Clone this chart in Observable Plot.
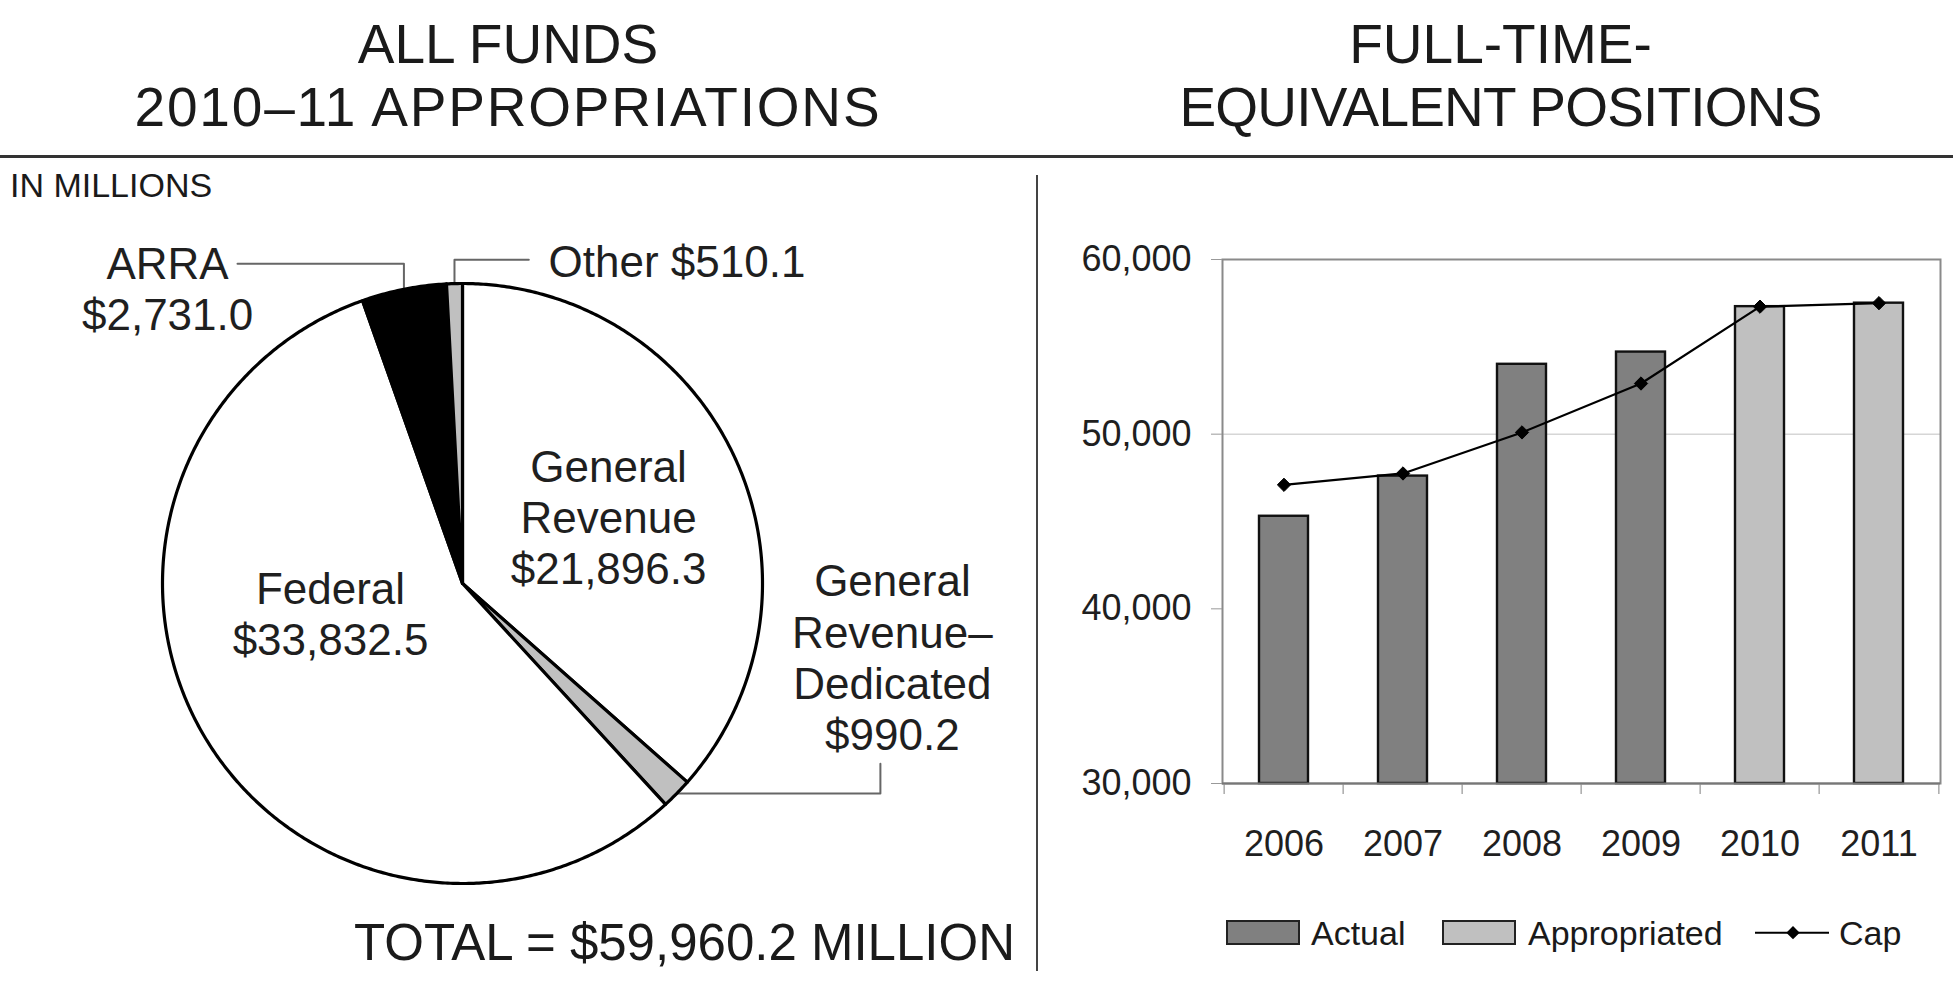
<!DOCTYPE html>
<html>
<head>
<meta charset="utf-8">
<script src="https://cdn.jsdelivr.net/npm/d3@7"></script>
<script src="https://cdn.jsdelivr.net/npm/@observablehq/plot@0.6"></script>
<style>
  html, body { margin: 0; padding: 0; background: #fff; }
  #page { position: relative; width: 1953px; height: 987px; overflow: hidden; font-family: "Liberation Sans", Arial, sans-serif; color: #1a1a1a; }
  .abs { position: absolute; white-space: nowrap; }
  .title { font-size: 55px; line-height: 63.4px; text-align: center; }
  .swatch { position: absolute; box-sizing: border-box; border: 2px solid #222; }
  .leg { position: absolute; font-size: 34px; line-height: 34px; white-space: nowrap; }
</style>
</head>
<body>
<div id="page">
  <div class="abs title" style="left:0px; top:12.5px; width:1016px;">ALL FUNDS<br><span style="letter-spacing:1.8px;">2010–11 APPROPRIATIONS</span></div>
  <div class="abs title" style="left:1100px; top:12.5px; width:801px;">FULL-TIME-<br><span style="letter-spacing:-0.8px;">EQUIVALENT POSITIONS</span></div>
  <div class="abs" style="left:0; top:155px; width:1953px; height:3px; background:#333;"></div>
  <div class="abs" style="left:10px; top:168px; font-size:34px; line-height:34px;">IN MILLIONS</div>
  <div class="abs" style="left:1036px; top:175px; width:2px; height:796px; background:#444;"></div>
  <div id="pie" class="abs" style="left:0; top:200px;"></div>
  <div id="bars" class="abs" style="left:1040px; top:220px;"></div>
  <div class="abs" style="left:0; top:917px; width:1015px; text-align:right; font-size:51px; line-height:51px;">TOTAL = $59,960.2 MILLION</div>
  <div id="legend"></div>
</div>
<script>
// ---------------- DATA ----------------
// Pie: All funds 2010–11 appropriations (in millions), clockwise from 12 o'clock
const fundNames  = ["General Revenue", "General Revenue–Dedicated", "Federal", "ARRA", "Other"];
const fundValues = [21896.3, 990.2, 33832.5, 2731.0, 510.1];
const fundLabels = ["General\nRevenue\n$21,896.3", "General\nRevenue–\nDedicated\n$990.2", "Federal\n$33,832.5", "ARRA\n$2,731.0", "Other $510.1"];
const fundFills  = ["#ffffff", "#c0c0c0", "#ffffff", "#000000", "#c0c0c0"];

// Bars: full-time-equivalent positions
const years      = ["2006", "2007", "2008", "2009", "2010", "2011"];
const ftePositions = [45300, 47600, 54000, 54700, 57300, 57500];
const fteTypes   = ["Actual", "Actual", "Actual", "Actual", "Appropriated", "Appropriated"];
const fteCap     = [47100, 47750, 50100, 52900, 57300, 57500];
const yTicks     = [30000, 40000, 50000, 60000];
const seriesNames = ["Actual", "Appropriated", "Cap"];
const seriesFills = ["#808080", "#c0c0c0"];

// ---------------- PIE ----------------
const FONT = "Liberation Sans, Arial, sans-serif";
const funds = fundNames.map((name, i) => ({name, value: fundValues[i], label: fundLabels[i], fill: fundFills[i]}));
const arcs = d3.pie().sort(null).value(d => d.value).startAngle(0).endAngle(2 * Math.PI)(funds);
const pt = a => ({x: Math.sin(a), y: Math.cos(a)});

const sliceMarks = arcs.map(arc => {
  const pts = [{x: 0, y: 0}];
  const n = Math.max(2, Math.ceil((arc.endAngle - arc.startAngle) / (Math.PI / 360)));
  for (let k = 0; k <= n; k++) pts.push(pt(arc.startAngle + (arc.endAngle - arc.startAngle) * k / n));
  pts.push({x: 0, y: 0});
  return Plot.line(pts, {x: "x", y: "y", fill: arc.data.fill, stroke: "#000", strokeWidth: 3.2, strokeLinejoin: "round", curve: "linear"});
});

// label layout (in pie-radius units)
const labelPos = {
  "General Revenue": [0.487, 0.224],
  "General Revenue–Dedicated": [1.433, -0.244],
  "Federal": [-0.44, -0.099],
  "ARRA": [-0.983, 0.984],
  "Other": [0.287, 1.068]
};
const mid = name => { const a = arcs.find(d => d.data.name === name); return pt((a.startAngle + a.endAngle) / 2); };
const aA = mid("ARRA"), aO = mid("Other"), aG = mid("General Revenue–Dedicated");
const leaders = [
  [{x: -0.75, y: 1.066}, {x: aA.x, y: 1.066}, aA],
  [aO, {x: aO.x, y: 1.079}, {x: 0.221, y: 1.079}],
  [aG, {x: 1.393, y: aG.y}, {x: 1.393, y: -0.601}]
];

const centered = funds.filter(d => d.name !== "Other").map(d => ({text: d.label, x: labelPos[d.name][0], y: labelPos[d.name][1]}));
const other = funds.filter(d => d.name === "Other").map(d => ({text: d.label, x: labelPos[d.name][0], y: labelPos[d.name][1]}));

const pie = Plot.plot({
  width: 1037, height: 700,
  x: {domain: [-1, 1], range: [162, 762], axis: null},
  y: {domain: [-1, 1], range: [683, 83], axis: null},
  style: {fontFamily: FONT, background: "transparent", overflow: "visible"},
  marks: [
    ...leaders.map(l => Plot.line(l, {x: "x", y: "y", stroke: "#666", strokeWidth: 2})),
    ...sliceMarks,
    Plot.text(centered, {x: "x", y: "y", text: "text", fontSize: 44, lineHeight: 1.16, textAnchor: "middle", lineAnchor: "middle", fill: "#1f1f1f"}),
    Plot.text(other, {x: "x", y: "y", text: "text", fontSize: 44, textAnchor: "start", lineAnchor: "middle", fill: "#1f1f1f"})
  ]
});
document.getElementById("pie").appendChild(pie);

// ---------------- BARS ----------------
const rows = years.map((year, i) => ({year, value: ftePositions[i], type: fteTypes[i], cap: fteCap[i]}));
const W = 913, ML = 182, MR = 13;
const step = (W - ML - MR) / years.length;

const bars = Plot.plot({
  width: W, height: 680,
  marginLeft: ML, marginRight: MR, marginTop: 39, marginBottom: 117,
  x: {type: "band", domain: years, paddingInner: 0.59, paddingOuter: 0.295, label: null},
  y: {domain: [30000, 60000], label: null},
  style: {fontFamily: FONT, background: "transparent", overflow: "visible", color: "#1f1f1f"},
  marks: [
    Plot.ruleY([50000], {stroke: "#d6d6d6", strokeWidth: 1.5}),
    Plot.frame({stroke: "#8a8a8a", strokeWidth: 2}),
    Plot.ruleX(years, {x: d => d, y1: 30000, y2: 29370, dx: -step / 2, stroke: "#aaa", strokeWidth: 1.5}),
    Plot.ruleX(years.slice(-1), {x: d => d, y1: 30000, y2: 29370, dx: step / 2, stroke: "#aaa", strokeWidth: 1.5}),
    Plot.barY(rows.filter(d => d.type === seriesNames[0]), {x: "year", y1: 30000, y2: "value", fill: seriesFills[0], stroke: "#111", strokeWidth: 2.4}),
    Plot.barY(rows.filter(d => d.type === seriesNames[1]), {x: "year", y1: 30000, y2: "value", fill: seriesFills[1], stroke: "#111", strokeWidth: 2.4}),
    Plot.ruleY([30000], {stroke: "#777", strokeWidth: 2}),
    Plot.axisY({ticks: yTicks, tickFormat: d3.format(","), tickSize: 11, tickPadding: 20, fontSize: 36, stroke: "#999", fill: "#1f1f1f"}),
    Plot.axisX({tickSize: 0, tickPadding: 47, fontSize: 36, fill: "#1f1f1f"}),
    Plot.line(rows, {x: "year", y: "cap", stroke: "#000", strokeWidth: 2.2}),
    Plot.dot(rows, {x: "year", y: "cap", symbol: "diamond2", r: 6, fill: "#000", stroke: "#000", strokeWidth: 1})
  ]
});
document.getElementById("bars").appendChild(bars);

// ---------------- LEGEND ----------------
const legend = document.getElementById("legend");
const legendItems = [
  {kind: "swatch", fill: seriesFills[0], left: 1226, textLeft: 1311, text: seriesNames[0]},
  {kind: "swatch", fill: seriesFills[1], left: 1442, textLeft: 1528, text: seriesNames[1]},
  {kind: "line", left: 1755, textLeft: 1839, text: seriesNames[2]}
];
for (const it of legendItems) {
  if (it.kind === "swatch") {
    const s = document.createElement("div");
    s.className = "swatch";
    s.style.cssText = `left:${it.left}px; top:920px; width:74px; height:25px; background:${it.fill};`;
    legend.appendChild(s);
  } else {
    const ns = "http://www.w3.org/2000/svg";
    const svg = document.createElementNS(ns, "svg");
    svg.setAttribute("width", 74); svg.setAttribute("height", 26);
    svg.style.cssText = `position:absolute; left:${it.left}px; top:920px;`;
    const ln = document.createElementNS(ns, "line");
    ln.setAttribute("x1", 0); ln.setAttribute("x2", 74); ln.setAttribute("y1", 12.7); ln.setAttribute("y2", 12.7);
    ln.setAttribute("stroke", "#000"); ln.setAttribute("stroke-width", 2);
    const dm = document.createElementNS(ns, "path");
    dm.setAttribute("d", d3.symbol(d3.symbolDiamond2, 113)());
    dm.setAttribute("transform", "translate(38,12.7)");
    dm.setAttribute("fill", "#000");
    svg.appendChild(ln); svg.appendChild(dm);
    legend.appendChild(svg);
  }
  const t = document.createElement("div");
  t.className = "leg";
  t.style.cssText = `left:${it.textLeft}px; top:916px;`;
  t.textContent = it.text;
  legend.appendChild(t);
}
</script>
</body>
</html>
